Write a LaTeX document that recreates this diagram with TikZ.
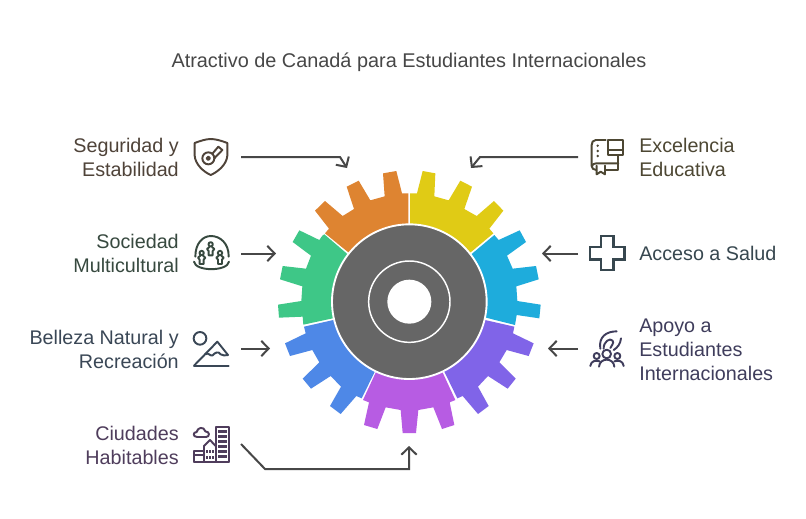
\documentclass[tikz,border=0pt]{standalone}
\usepackage{fontspec}
\setmainfont{Liberation Sans}
\usetikzlibrary{arrows.meta}
\definecolor{cOr}{HTML}{DE8431}\definecolor{cYe}{HTML}{E0CB15}\definecolor{cCy}{HTML}{1EACDC}
\definecolor{cGr}{HTML}{3EC787}\definecolor{cBl}{HTML}{4E88E7}\definecolor{cMa}{HTML}{B75CE3}
\definecolor{cVi}{HTML}{8064E8}\definecolor{cHub}{HTML}{666666}\definecolor{cLine}{HTML}{474747}
\definecolor{tSe}{HTML}{4F4339}\definecolor{tSo}{HTML}{37493F}\definecolor{tBe}{HTML}{3A4756}
\definecolor{tCi}{HTML}{4F3D5C}\definecolor{tEx}{HTML}{4D4733}\definecolor{tAc}{HTML}{37474F}\definecolor{tAp}{HTML}{3F3D5C}
\newcommand{\pawn}[3]{\draw[#3] (#1,#2) circle[radius=6.5]; \draw[#3] (#1-4,#2+8) -- (#1-11,#2+14) -- (#1-6,#2+20) -- (#1-6,#2+33) -- (#1+6,#2+33) -- (#1+6,#2+20) -- (#1+11,#2+14) -- (#1+4,#2+8);}
\tikzset{
 lbl/.style={font=\fontsize{14.8pt}{18pt}\selectfont,inner sep=0pt},
 lblL/.style={lbl,anchor=east,align=right},
 lblR/.style={lbl,anchor=west,align=left},
 conn/.style={draw=cLine,line width=1.5pt,-{Straight Barb[length=5.5pt,width=11.5pt,line width=1.5pt]}},
 icon/.style={line width=1.45pt,line cap=round,line join=round},
 zoomA/.style={shift={(180*0.75pt,-125*0.75pt)},x=0.25pt,y=-0.25pt},
 zoomB/.style={shift={(180*0.75pt,-320*0.75pt)},x=0.25pt,y=-0.25pt},
 zoomC/.style={shift={(535*0.75pt,-125*0.75pt)},x=0.25pt,y=-0.25pt},
 zoomD/.style={shift={(535*0.75pt,-320*0.75pt)},x=0.25pt,y=-0.25pt},
 zoomG/.style={shift={(260*0.75pt,-150*0.75pt)},x=0.25pt,y=-0.25pt},
}
\begin{document}
\begin{tikzpicture}[x=0.75pt,y=-0.75pt]
\useasboundingbox (0,0) rectangle (806,518);
\fill[white] (0,0) rectangle (806,518);
\node[font=\fontsize{14.9pt}{18pt}\selectfont,text=cLine,inner sep=0pt] (title) at (409,62) {Atractivo de Canadá para Estudiantes Internacionales};
% gear
\begin{scope}[zoomG]
\fill[cOr] (445,130)--(426,130)--(409,63)--(369,70)--(374,139)--(331,151)--(296,92)--(260,110)--(282,177)--(248,198)--(195,153)--(165,182)--(207,236)--(195,250)--(265,307)--(445,300)--cycle;
\fill[cYe] (450,130)--(471,130)--(488,63)--(526,70)--(523,139)--(566,151)--(601,92)--(636,110)--(613,177)--(650,198)--(702,153)--(730,182)--(688,236)--(700,250)--(632,307)--(450,300)--cycle;
\fill[cCy] (635,312)--(703,255)--(716,270)--(779,241)--(798,276)--(741,317)--(758,356)--(828,348)--(836,388)--(769,409)--(772,453)--(842,464)--(838,505)--(770,495)--(765,525)--(678,503)--(560,455)--cycle;
\fill[cGr] (262,312)--(193,253)--(187,257)--(178,270)--(118,241)--(98,276)--(153,317)--(138,356)--(68,348)--(60,388)--(127,409)--(124,453)--(54,464)--(57,503)--(128,500)--(130,524)--(218,505)--(340,455)--cycle;
\fill[cBl] (220,510)--(132,530)--(137,550)--(75,580)--(90,618)--(157,600)--(178,637)--(128,686)--(153,716)--(212,678)--(243,710)--(210,768)--(242,792)--(289,738)--(305,745)--(343,668)--(448,455)--cycle;
\fill[cMa] (346,670)--(309,750)--(327,757)--(312,825)--(352,837)--(377,772)--(422,780)--(428,849)--(468,849)--(475,780)--(520,772)--(546,837)--(583,825)--(569,757)--(586,750)--(549,670)--(448,455)--cycle;
\fill[cVi] (553,665)--(592,745)--(608,738)--(654,792)--(686,768)--(654,710)--(684,678)--(743,716)--(767,686)--(718,637)--(740,600)--(806,618)--(821,580)--(759,550)--(763,530)--(675,510)--(448,455)--cycle;
\filldraw[fill=cHub,draw=white,line width=1.4pt] (448,455) circle[radius=232];
\draw[white,line width=1.1pt] (448,455) circle[radius=122];
\fill[white] (448,455) circle[radius=66];
\end{scope}
% labels
\node[lblL,text=tSe] (seg) at (179,157) {Seguridad y\\Estabilidad};
\node[lblL,text=tSo] (soc) at (179,253) {Sociedad\\Multicultural};
\node[lblL,text=tBe] (bel) at (179,349) {Belleza Natural y\\Recreación};
\node[lblL,text=tCi] (ciu) at (179,445) {Ciudades\\Habitables};
\node[lblR,text=tEx] (exc) at (639,157) {Excelencia\\Educativa};
\node[lblR,text=tAc] (acc) at (639,253) {Acceso a Salud};
\node[lblR,text=tAp] (apo) at (639,349.5) {Apoyo a\\Estudiantes\\Internacionales};
% connectors
\coordinate (s1) at (241,157); \coordinate (s2) at (340,157); \coordinate (s3) at (347,168);
\coordinate (e1) at (578,157); \coordinate (e2) at (480,157); \coordinate (e3) at (471,168);
\coordinate (o1) at (241,253.5); \coordinate (o2) at (276,253.5);
\coordinate (a1) at (578,253.5); \coordinate (a2) at (542,253.5);
\coordinate (b1) at (241,348.5); \coordinate (b2) at (270,348.5);
\coordinate (p1) at (578,348.5); \coordinate (p2) at (548,348.5);
\coordinate (c1) at (241,444); \coordinate (c2) at (265,469); \coordinate (c3) at (409,469); \coordinate (c4) at (409,446);
\draw[conn] (s1)--(s2)--(s3);
\draw[conn] (e1)--(e2)--(e3);
\draw[conn] (o1)--(o2);
\draw[conn] (a1)--(a2);
\draw[conn] (b1)--(b2);
\draw[conn] (p1)--(p2);
\draw[conn] (c1)--(c2)--(c3)--(c4);
% shield
\begin{scope}[zoomA,icon,draw=tSe]
\draw (44,54) .. controls (60,48) and (78,42) .. (92,42) .. controls (108,42) and (126,48) .. (142,54) -- (142,92) .. controls (140,118) and (115,140) .. (92,150) .. controls (70,140) and (46,118) .. (44,92) -- cycle;
\draw (85,100) circle[radius=18];
\draw (85,100) circle[radius=5];
\draw (98,85) -- (115,65) -- (127,75) -- (103,100);
\end{scope}
% society
\begin{scope}[zoomA,icon,draw=tSo]
\draw (46,395) .. controls (46,355) and (68,333) .. (93,333) .. controls (120,333) and (147,355) .. (146,395);
\draw (42,410) .. controls (46,440) and (142,440) .. (147,410);
\pawn{92}{358}{}
\pawn{65}{384}{}
\pawn{120}{384}{}
\end{scope}
% mountain
\begin{scope}[zoomB,icon,draw=tBe]
\draw (60,55) circle[radius=19];
\draw (42,137) -- (146,137);
\draw (42,137) -- (112,65) -- (144,105);
\draw (76,103) .. controls (85,95) and (90,110) .. (98,106) .. controls (105,98) and (115,92) .. (122,103) .. controls (128,108) and (136,106) .. (144,105);
\end{scope}
% city
\begin{scope}[zoomB,icon,draw=tCi]
\draw (108,322) rectangle (146,426);
\draw (43,426) -- (146,426);
\draw (107,378) -- (90,360) -- (72,378) -- (72,426);
\draw (72,392) -- (43,392) -- (43,426);
\draw (43,405) -- (72,405);
\draw (52,351) .. controls (38,351) and (38,336) .. (50,336) .. controls (52,322) and (72,318) .. (76,334) .. controls (90,334) and (90,351) .. (78,351) -- cycle;
\foreach \cx in {118,127,136} \foreach \cy in {334,349,364,379,394,409} \fill[tCi] (\cx-3.5,\cy-4) rectangle (\cx+3.5,\cy+4);
\foreach \cx in {81,90,99} \foreach \cy in {395,412} \fill[tCi] (\cx-3,\cy-4) rectangle (\cx+3,\cy+4);
\end{scope}
% book
\begin{scope}[zoomC,icon,draw=tEx]
\draw (212,45) -- (182,45) .. controls (174,45) and (170,52) .. (170,60) -- (170,122) .. controls (170,130) and (175,135) .. (184,135);
\draw (170,125) .. controls (172,118) and (176,115) .. (184,115) -- (250,115);
\draw (213,135) -- (250,135) -- (250,92);
\draw (185,122) -- (185,148) -- (197,140) -- (210,148) -- (210,122);
\draw (220,45) rectangle (263,90);
\draw (220,75) -- (263,75);
\foreach \cy in {62,78,93} \fill[tEx] (188,\cy) circle[radius=4];
\end{scope}
% cross
\begin{scope}[zoomC,icon,draw=tAc,line width=1.8pt,line cap=butt,line join=miter]
\draw (198,333)--(235,333)--(235,366)--(268,366)--(268,403)--(235,403)--(235,435)--(198,435)--(198,403)--(165,403)--(165,366)--(198,366)--cycle;
\end{scope}
% support
\begin{scope}[zoomD,icon,draw=tAp]
\draw (245,34) .. controls (215,34) and (190,50) .. (196,86);
\draw (206,86) .. controls (205,65) and (225,52) .. (233,62) .. controls (238,70) and (228,78) .. (226,84);
\draw (258,55) .. controls (256,72) and (248,82) .. (236,90);
\draw (215,102) circle[radius=13];
\draw (185,108) circle[radius=9];
\draw (247,108) circle[radius=9];
\draw (192,140) .. controls (194,112) and (236,112) .. (238,140);
\draw (166,138) .. controls (168,122) and (182,120) .. (194,124);
\draw (266,138) .. controls (264,122) and (250,120) .. (238,124);
\end{scope}
\end{tikzpicture}
\end{document}
